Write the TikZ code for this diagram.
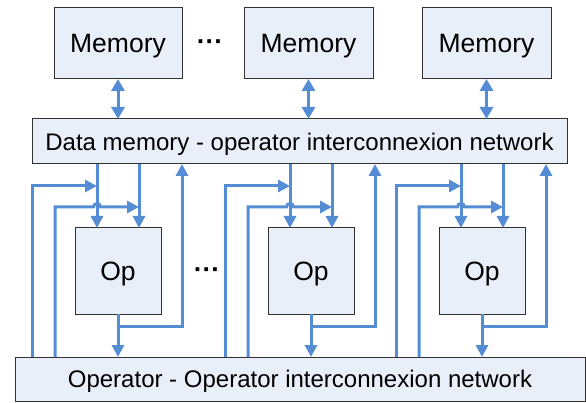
\documentclass[tikz,border=0pt]{standalone}
\usepackage{fontspec}
\setmainfont{Liberation Sans}
\usetikzlibrary{arrows.meta,calc}
\definecolor{wireblue}{RGB}{84,141,212}
\definecolor{boxfill}{RGB}{233,239,248}
\definecolor{boxline}{RGB}{50,50,50}
\tikzset{
  box/.style={draw=boxline,fill=boxfill,line width=1pt,inner sep=0pt,outer sep=0pt,rectangle,text depth=0pt},
  bigtext/.style={font=\fontsize{26.5}{30}\selectfont},
  nettext/.style={font=\fontsize{24}{28}\selectfont},
  wire/.style={draw=wireblue,line width=3pt},
  arr/.style={-{Triangle[length=12pt,width=12pt]}},
  darr/.style={{Triangle[length=12pt,width=13pt]}-{Triangle[length=12pt,width=13pt]}},
  dotstext/.style={font=\fontsize{26.5}{30}\selectfont\bfseries,inner sep=0pt}
}
\begin{document}
\begin{tikzpicture}[x=1pt,y=-1pt]
\useasboundingbox (0,0) rectangle (586,403);
% memories
\node[box,bigtext,minimum width=128pt,minimum height=71pt] (mem1) at (118,43.5) {Memory};
\node[box,bigtext,minimum width=129pt,minimum height=71pt] (mem2) at (308.5,43.5) {Memory};
\node[box,bigtext,minimum width=129pt,minimum height=71pt] (mem3) at (486.5,43.5) {Memory};
\node[dotstext] (dots1) at (210,45) {···};
% data memory network
\node[box,nettext,minimum width=535pt,minimum height=45pt] (dm) at (299.5,141.5) {Data memory - operator interconnexion network};
% operators
\node[box,bigtext,minimum width=86pt,minimum height=86pt] (op1) at (118,271) {Op};
\node[box,bigtext,minimum width=86pt,minimum height=86pt] (op2) at (311,271) {Op};
\node[box,bigtext,minimum width=86pt,minimum height=86pt] (op3) at (482,271) {Op};
\node[dotstext] (dots2) at (207,273) {···};
% operator network
\node[box,nettext,minimum width=570pt,minimum height=44pt] (on) at (300,379) {Operator - Operator interconnexion network};
% helper coordinates
\coordinate (y1) at (0,186);
\coordinate (y2) at (0,207);
\coordinate (yb) at (0,326);
\foreach \c/\i in {118/1,311/2,482/3}{
  \coordinate (a\i) at ({\c-21},0);
  \coordinate (b\i) at ({\c+21},0);
  \coordinate (l\i) at ({\c-86},0);
  \coordinate (m\i) at ({\c-63},0);
  \coordinate (u\i) at ({\c+64},0);
}
% memory links
\foreach \i in {1,2,3}{
  \draw[wire,darr] (mem\i.south) -- (mem\i.south |- dm.north);
}
% operator wiring
\foreach \i in {1,2,3}{
  \draw[wire,arr] (dm.south -| a\i) -- (op\i.north -| a\i);
  \draw[wire,arr] (dm.south -| b\i) -- (op\i.north -| b\i);
  \draw[wire,arr] (on.north -| l\i) |- (a\i |- y1);
  \draw[wire,arr] (on.north -| m\i) -- (m\i |- y2) -- ($(a\i |- y2)+(-3.5,0)$) arc[start angle=180,end angle=0,radius=3.5pt] -- (b\i |- y2);
  \draw[wire,arr] (op\i.south) -- (op\i.south |- on.north);
  \draw[wire,arr] (op\i.south |- yb) -| (dm.south -| u\i);
}
\end{tikzpicture}
\end{document}
